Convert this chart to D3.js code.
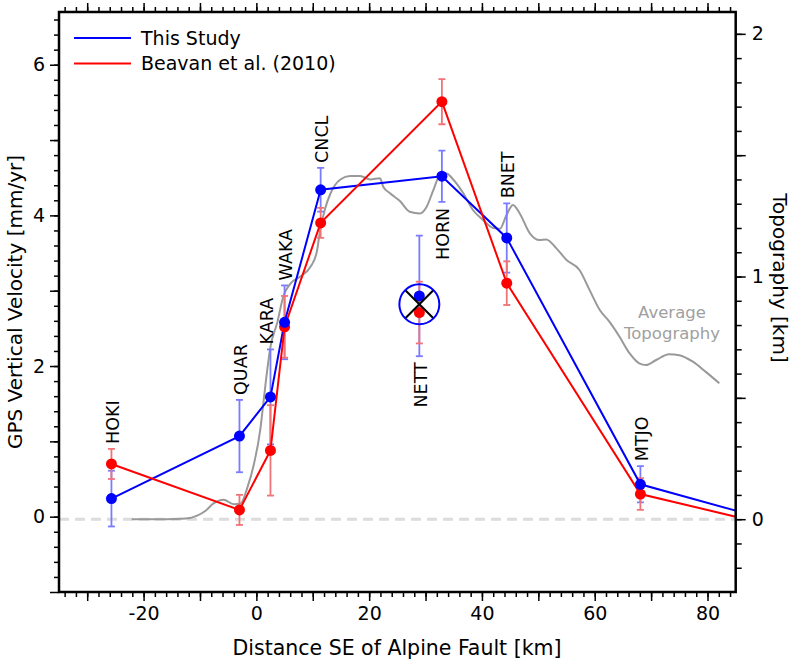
<!DOCTYPE html>
<html>
<head>
<meta charset="utf-8">
<script src="https://cdn.jsdelivr.net/npm/d3@7"></script>
<style>
body { margin: 0; background: #fff; }
text { font-family: "DejaVu Sans", Verdana, sans-serif; }
</style>
</head>
<body>
<script>
var width = 793
var height = 661
var plotL = 59, plotR = 735.7, plotT = 12, plotB = 592

// GPS stations along the profile
var stations = ["HOKI", "QUAR", "KARA", "WAKA", "CNCL", "HORN", "BNET", "MTJO"]
var dist = [-25.7, -3.0, 2.5, 5.0, 11.4, 32.9, 44.4, 68.1]
var blueVel = [0.24, 1.07, 1.59, 2.58, 4.34, 4.52, 3.70, 0.43]
var blueErr = [0.37, 0.48, 0.63, 0.49, 0.29, 0.34, 0.46, 0.24]
var redVel = [0.70, 0.09, 0.88, 2.52, 3.90, 5.51, 3.10, 0.30]
var redErr = [0.20, 0.20, 0.60, 0.41, 0.20, 0.30, 0.29, 0.21]
var labelBelow = ["HORN"]

// profile continues past the right edge
var tailDist = 85
var tailBlue = 0.08
var tailRed = 0.0

// NETT is off the profile
var nettName = "NETT"
var nettDist = 28.9
var nettBlue = 2.93, nettBlueErr = 0.80
var nettRed = 2.71, nettRedErr = 0.41

var topoDist = [-22.1, -16, -12.5, -10.5, -9, -7.6, -5.8, -4.0, -2.8, -1.6, -0.5, 0.7, 1.3, 1.9, 2.5, 3.7, 4.8, 6.0, 7.8, 9.6,
  10.7, 11.3, 12.2, 13.1, 14.9, 16.6, 18.4, 20.2, 21.9, 22.5, 23.7, 25.5, 27.2, 29.0, 30.2, 31.4, 32.6, 33.7, 34.9, 36.7,
  38.4, 40.2, 42.0, 43.2, 44.3, 45.5, 46.7, 48.5, 50.2, 51.4, 53.2, 55.0, 57.3, 59.1, 60.9, 62.6, 64.4, 66.2, 67.9, 69.1,
  70.9, 73.2, 75.0, 77.4, 79.7, 82.1]
var topoKm = [0.0, 0.0, 0.003, 0.015, 0.035, 0.065, 0.08, 0.062, 0.065, 0.13, 0.22, 0.37, 0.49, 0.61, 0.71, 0.81, 0.92, 0.97, 1.0, 1.04,
  1.10, 1.19, 1.28, 1.34, 1.40, 1.414, 1.414, 1.40, 1.405, 1.37, 1.343, 1.31, 1.267, 1.26, 1.288, 1.357, 1.42, 1.425, 1.40, 1.343,
  1.274, 1.233, 1.20, 1.197, 1.25, 1.295, 1.26, 1.178, 1.15, 1.153, 1.116, 1.068, 1.027, 0.944, 0.862, 0.814, 0.752, 0.683, 0.642, 0.635,
  0.656, 0.680, 0.676, 0.649, 0.607, 0.56]

var legendNames = ["This Study", "Beavan et al. (2010)"]
var colors = ["#0000ff", "#ff0000"]
var errColors = ["#7b7bff", "#f07378"]

var x = d3.scaleLinear().domain([-35, 85]).range([plotL, plotR])
var y = d3.scaleLinear().domain([-1, 6.7]).range([plotB, plotT])
var yTopo = d3.scaleLinear().domain([-0.3, 2.09]).range([plotB, plotT])

var svg = d3.select("body").append("svg")
.attr("width", width)
.attr("height", height)

svg.append("defs").append("clipPath").attr("id", "clip")
.append("rect").attr("x", plotL).attr("y", plotT).attr("width", plotR - plotL).attr("height", plotB - plotT)

var plot = svg.append("g").attr("clip-path", "url(#clip)")

// zero line
plot.append("line")
.attr("x1", plotL).attr("x2", plotR)
.attr("y1", yTopo(0)).attr("y2", yTopo(0))
.attr("stroke", "#dcdcdc").attr("stroke-width", 3)
.attr("stroke-dasharray", "10,6")

// topography
plot.append("path")
.datum(d3.range(topoDist.length))
.attr("fill", "none")
.attr("stroke", "#999")
.attr("stroke-width", 2)
.attr("d", d3.line()
  .x(function(i) { return x(topoDist[i]) })
  .y(function(i) { return yTopo(topoKm[i]) })
  .curve(d3.curveMonotoneX))

svg.append("text")
.attr("x", 672).attr("y", 318)
.attr("text-anchor", "middle")
.attr("fill", "#a0a0a0")
.style("font-size", "16.5px")
.text("Average")
svg.append("text")
.attr("x", 672).attr("y", 339)
.attr("text-anchor", "middle")
.attr("fill", "#a0a0a0")
.style("font-size", "16.5px")
.text("Topography")

var series = [[blueVel, blueErr, tailBlue], [redVel, redErr, tailRed]]

function drawErr(g, xv, v, e, color) {
  g.append("line")
  .attr("x1", x(xv)).attr("x2", x(xv))
  .attr("y1", y(v - e)).attr("y2", y(v + e))
  .attr("stroke", color).attr("stroke-width", 1.8)
  ;[v - e, v + e].forEach(function(t) {
    g.append("line")
    .attr("x1", x(xv) - 3.5).attr("x2", x(xv) + 3.5)
    .attr("y1", y(t)).attr("y2", y(t))
    .attr("stroke", color).attr("stroke-width", 1.8)
  })
}

// error bars
series.forEach(function(s, k) {
  var g = plot.append("g")
  dist.forEach(function(d, i) { drawErr(g, d, s[0][i], s[1][i], errColors[k]) })
})
var ng = plot.append("g")
drawErr(ng, nettDist, nettBlue, nettBlueErr, errColors[0])
drawErr(ng, nettDist, nettRed, nettRedErr, errColors[1])

// profile lines and points
series.forEach(function(s, k) {
  var pts = dist.map(function(d, i) { return [d, s[0][i]] })
  pts.push([tailDist, s[2]])
  plot.append("path")
  .datum(pts)
  .attr("fill", "none")
  .attr("stroke", colors[k])
  .attr("stroke-width", 2)
  .attr("d", d3.line().x(function(p) { return x(p[0]) }).y(function(p) { return y(p[1]) }))
})
series.slice().reverse().forEach(function(s, kk) {
  var k = 1 - kk
  plot.append("g").selectAll("circle")
  .data(dist)
  .enter().append("circle")
  .attr("cx", function(d) { return x(d) })
  .attr("cy", function(d, i) { return y(s[0][i]) })
  .attr("r", 5.5)
  .attr("fill", colors[k])
})

// NETT marker, crossed out
var cx = x(nettDist), cy = y((nettBlue + nettRed) / 2)
plot.append("circle").attr("cx", cx).attr("cy", y(nettBlue)).attr("r", 5.5).attr("fill", colors[0])
plot.append("circle").attr("cx", cx).attr("cy", y(nettRed)).attr("r", 5.5).attr("fill", colors[1])
plot.append("line").attr("x1", cx - 14).attr("y1", cy - 14).attr("x2", cx + 14).attr("y2", cy + 14)
.attr("stroke", "#000").attr("stroke-width", 2)
plot.append("line").attr("x1", cx - 14).attr("y1", cy + 14).attr("x2", cx + 14).attr("y2", cy - 14)
.attr("stroke", "#000").attr("stroke-width", 2)
plot.append("circle").attr("cx", cx).attr("cy", cy).attr("r", 20)
.attr("fill", "none").attr("stroke", colors[0]).attr("stroke-width", 2)

// station names
var names = stations.concat([nettName])
var nDist = dist.concat([nettDist])
var hi = dist.map(function(d, i) { return Math.max(blueVel[i] + blueErr[i], redVel[i] + redErr[i]) }).concat([nettBlue + nettBlueErr])
var lo = dist.map(function(d, i) { return Math.min(blueVel[i] - blueErr[i], redVel[i] - redErr[i]) }).concat([nettBlue - nettBlueErr])
names.forEach(function(n, i) {
  var below = labelBelow.indexOf(n) >= 0 || n == nettName
  var px = x(nDist[i]) + (n == "KARA" ? -4 : 1)
  var py = below ? y(lo[i]) + 6 : y(hi[i]) - 5
  svg.append("text")
  .attr("transform", "translate(" + px + "," + py + ") rotate(-90)")
  .attr("dy", "0.36em")
  .attr("text-anchor", below ? "end" : "start")
  .style("font-size", "17.5px")
  .text(n)
})

// axes
function ticks(a, b, step) { return d3.range(a, b + step / 2, step).map(function(v) { return Math.round(v * 100) / 100 }) }

function styleAxis(g) {
  g.select(".domain").remove()
  g.selectAll("line").attr("stroke", "#000").attr("stroke-width", 1.5)
  g.selectAll("text").attr("font-family", null).style("font-size", "19px").attr("fill", "#000")
}

svg.append("g").attr("transform", "translate(0," + plotB + ")")
.call(d3.axisBottom(x).tickValues(ticks(-34, 84, 2)).tickSize(5).tickFormat(""))
.call(styleAxis)
svg.append("g").attr("transform", "translate(0," + plotB + ")")
.call(d3.axisBottom(x).tickValues(ticks(-30, 80, 10)).tickSize(9).tickPadding(6)
  .tickFormat(function(d) { return d % 20 == 0 ? String(d) : "" }))
.call(styleAxis)
svg.append("g").attr("transform", "translate(0," + plotT + ")")
.call(d3.axisTop(x).tickValues(ticks(-34, 84, 2)).tickSize(5).tickFormat(""))
.call(styleAxis)
svg.append("g").attr("transform", "translate(0," + plotT + ")")
.call(d3.axisTop(x).tickValues(ticks(-30, 80, 10)).tickSize(9).tickFormat(""))
.call(styleAxis)

svg.append("g").attr("transform", "translate(" + plotL + ",0)")
.call(d3.axisLeft(y).tickValues(ticks(-0.8, 6.6, 0.2)).tickSize(5).tickFormat(""))
.call(styleAxis)
svg.append("g").attr("transform", "translate(" + plotL + ",0)")
.call(d3.axisLeft(y).tickValues(ticks(-1, 6, 1)).tickSize(9).tickPadding(5)
  .tickFormat(function(d) { return d % 2 == 0 ? String(d) : "" }))
.call(styleAxis)

svg.append("g").attr("transform", "translate(" + plotR + ",0)")
.call(d3.axisRight(yTopo).tickValues(ticks(-0.2, 2.0, 0.1)).tickSize(6).tickFormat(""))
.call(styleAxis)
svg.append("g").attr("transform", "translate(" + plotR + ",0)")
.call(d3.axisRight(yTopo).tickValues(ticks(0, 2, 0.5)).tickSize(10).tickPadding(6)
  .tickFormat(function(d) { return d % 1 == 0 ? String(d) : "" }))
.call(styleAxis)

// frame
svg.append("rect")
.attr("x", plotL).attr("y", plotT)
.attr("width", plotR - plotL).attr("height", plotB - plotT)
.attr("fill", "none").attr("stroke", "#000").attr("stroke-width", 2.5)

// axis titles
svg.append("text")
.attr("x", 397).attr("y", 655)
.attr("text-anchor", "middle")
.style("font-size", "20.5px")
.text("Distance SE of Alpine Fault [km]")

svg.append("text")
.attr("transform", "translate(22," + ((plotT + plotB) / 2) + ") rotate(-90)")
.attr("text-anchor", "middle")
.style("font-size", "20px")
.text("GPS Vertical Velocity [mm/yr]")

svg.append("text")
.attr("transform", "translate(773,278) rotate(90)")
.attr("text-anchor", "middle")
.style("font-size", "20px")
.text("Topography [km]")

// legend
legendNames.forEach(function(n, i) {
  var ly = 38 + i * 25.5
  svg.append("line").attr("x1", 74).attr("x2", 131).attr("y1", ly).attr("y2", ly)
  .attr("stroke", colors[i]).attr("stroke-width", 2)
  svg.append("text").attr("x", 141).attr("y", ly + 6.5)
  .style("font-size", "19px")
  .text(n)
})
</script>
</body>
</html>
